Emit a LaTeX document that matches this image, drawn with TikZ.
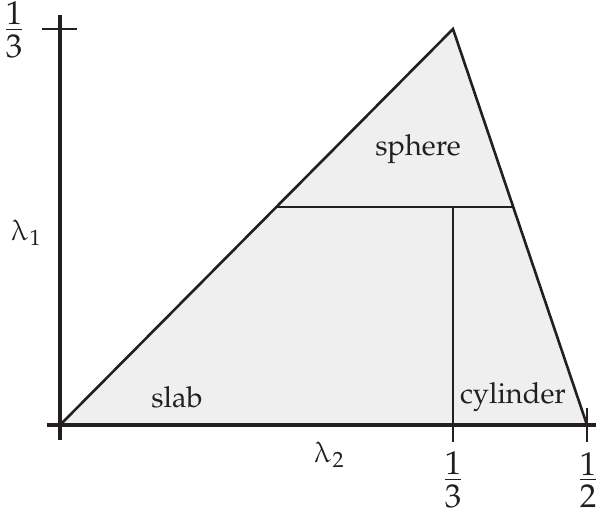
\documentclass[tikz,border=0pt]{standalone}
\usepackage[T1]{fontenc}
\usepackage{mathpazo}
\usetikzlibrary{calc}
\definecolor{ink}{HTML}{231F20}
\definecolor{region}{HTML}{EFEFEF}
\newcommand{\uplam}{\tikz[baseline=(q.base)]\node[xslant=-0.22,inner sep=0pt,outer sep=0pt] (q) {$\lambda$};}
\newcommand{\stackfrac}[2]{\vbox{\offinterlineskip\halign{\hfil##\hfil\cr#1\cr\noalign{\kern4pt\hrule height 1.2pt\kern4.5pt}#2\cr}}}
\begin{document}
\begin{tikzpicture}[x=1pt,y=-1pt,
  axis/.style={draw=ink,line width=4.5pt},
  tickmark/.style={draw=ink,line width=2.8pt},
  edge/.style={draw=ink,line width=2.6pt,line join=miter},
  inner/.style={draw=ink,line width=1.1pt},
  lab/.style={font=\fontsize{29}{34}\selectfont,inner sep=0pt,text=ink},
  frac/.style={font=\fontsize{33}{38}\selectfont,inner sep=0pt,text=ink}]
\useasboundingbox (0,0) rectangle (596,510);
\coordinate (O) at (60,425);
\coordinate (A) at (453,29);
\coordinate (B) at (587,425);
\coordinate (L) at ($(O)!0.5505!(A)$);
\coordinate (R) at ($(B)!0.5505!(A)$);
\coordinate (M) at (453,207);
\coordinate (Mb) at (453,425);
% region
\fill[region] (O) -- (A) -- (B) -- cycle;
\draw[inner] (L) -- (R);
\draw[inner] (M) -- (Mb);
\draw[edge] (O) -- (A) -- (B);
% axes
\coordinate (Ytop) at (60,15);
\coordinate (Ybot) at (60,440);
\coordinate (Xl) at (47,425);
\coordinate (Xr) at (596,425);
\draw[axis] (Ytop) -- (Ybot);
\draw[axis] (Xl) -- (Xr);
% ticks
\coordinate (T1a) at (42,29); \coordinate (T1b) at (77,29);
\coordinate (T2a) at (453,408); \coordinate (T2b) at (453,442);
\coordinate (T3a) at (587,408); \coordinate (T3b) at (587,442);
\draw[tickmark] (T1a) -- (T1b);
\draw[tickmark] (T2a) -- (T2b);
\draw[tickmark] (T3a) -- (T3b);
% labels
\node[lab] (sphere) at (418,149) {sphere};
\node[lab] (slab) at (177,397) {slab};
\node[lab] (cyl) at (513,397) {cylinder};
\node[lab] (l1) at (24,233) {\uplam$_1$};
\node[lab] (l2) at (327,455) {\uplam$_2$};
\node[frac] (f1) at (14,30) {\stackfrac{1}{3}};
\node[frac] (f2) at (453,480) {\stackfrac{1}{3}};
\node[frac] (f3) at (588,480) {\stackfrac{1}{2}};
\end{tikzpicture}
\end{document}
